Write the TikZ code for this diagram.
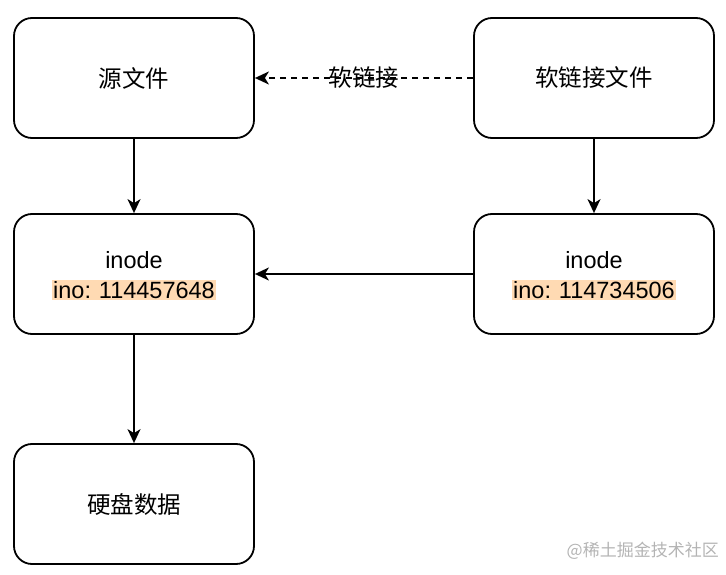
\documentclass[tikz,border=0pt]{standalone}
\usepackage{fontspec}
\setmainfont{Liberation Sans}
\newfontfamily\cjk{Noto Sans CJK SC}
\usetikzlibrary{arrows.meta}
\definecolor{hl}{HTML}{FFDAB3}
\definecolor{wm}{HTML}{B4B4B4}
\begin{document}
\begin{tikzpicture}[x=1pt,y=-1pt,
  box/.style={draw=black,line width=1.8pt,rounded corners=18pt,minimum width=240pt,minimum height=120pt,fill=white,inner sep=0pt,align=center},
  conn/.style={line width=1.8pt,-{Stealth[length=14pt,width=13pt,inset=4pt]}},
  txt/.style={font=\fontsize{23.5}{28}\selectfont},
  ctxt/.style={font=\cjk\fontsize{23.5}{28}\selectfont}]
\useasboundingbox (0,0) rectangle (726,575);
\node[box,ctxt] (src) at (134,78) {源文件};
\node[box,ctxt] (lnk) at (594,78) {软链接文件};
\node[box] (inl) at (134,274) {};
\node[box] (inr) at (594,274) {};
\node[box,ctxt] (disk) at (134,504) {硬盘数据};
\node[txt,inner sep=0pt] (inlt) at (134,260) {inode};
\node[txt,fill=hl,inner sep=1.5pt] (inlb) at (134,290) {ino:\,\,114457648};
\node[txt,inner sep=0pt] (inrt) at (594,260) {inode};
\node[txt,fill=hl,inner sep=1.5pt] (inrb) at (594,290) {ino:\,\,114734506};
\draw[conn,dash pattern=on 6pt off 5pt] (lnk.west) -- node[ctxt,pos=0.5,inner sep=0pt] (lbl) {软链接} (src.east);
\draw[conn] (src.south) -- (inl.north);
\draw[conn] (lnk.south) -- (inr.north);
\draw[conn] (inr.west) -- (inl.east);
\draw[conn] (inl.south) -- (disk.north);
\node[font=\cjk\fontsize{17}{20}\selectfont,text=wm,anchor=east,inner sep=0pt] (wmk) at (719,551) {@稀土掘金技术社区};
\end{tikzpicture}
\end{document}
